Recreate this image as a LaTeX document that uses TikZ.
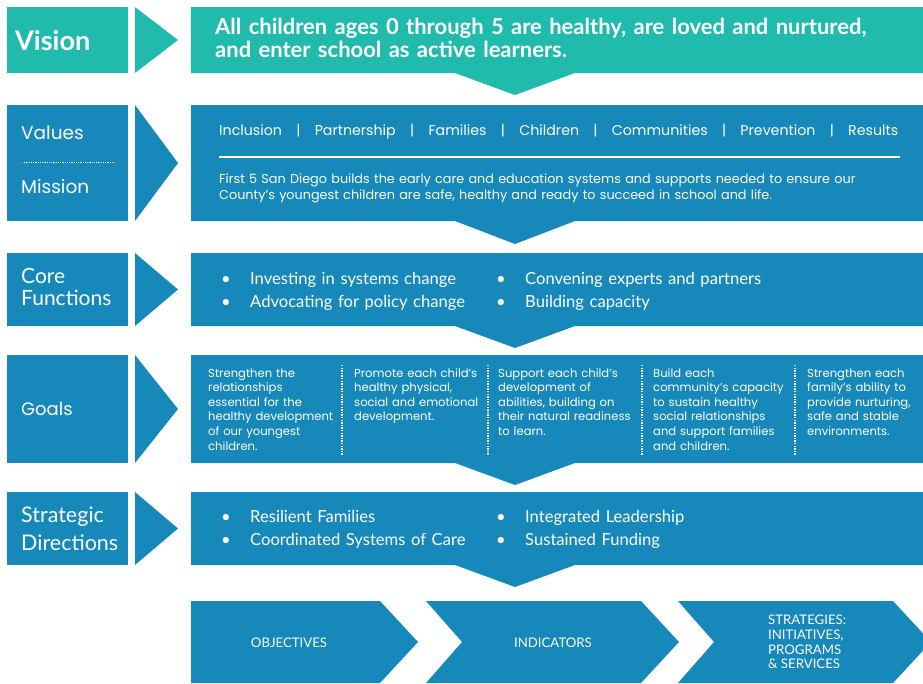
\documentclass[tikz,border=0pt]{standalone}
\usepackage{fontspec}
\setmainfont{Lato}
\newfontfamily\widefont{Poppins}
\usetikzlibrary{positioning}
\definecolor{visteal}{HTML}{21BBAE}
\definecolor{planblue}{HTML}{1689BA}

\begin{document}
\begin{tikzpicture}[x=1pt, y=-1pt,
  side/.style = {fill=planblue, anchor=north west, minimum width=121pt, inner sep=0pt},
  sidetext/.style = {text=white, anchor=base west, inner sep=0pt, text width=110pt, align=left},
  txt/.style = {text=white, anchor=base west, inner sep=0pt, align=left},
  goal/.style = {text=white, anchor=base west, inner sep=0pt, text width=135pt, align=left, font=\widefont\fontsize{11.6}{14.6}\selectfont},
  item/.style = {text=white, anchor=base west, inner sep=0pt, text width=280pt, align=left, font=\fontsize{16.6}{22.5}\selectfont},
  chev/.style = {text=white, inner sep=0pt, align=left, font=\fontsize{13.2}{14.7}\selectfont},
  sep/.style = {white, line width=1.5pt, dash pattern=on 1.3pt off 1.3pt}]

\useasboundingbox (0,0) rectangle (923,683);
\clip (0,0) rectangle (923,683);

% vision
\node[side, fill=visteal, minimum height=66pt] (vis) at (7,7) {};
\node[sidetext, font=\bfseries\fontsize{27}{30}\selectfont] (vislab) at (15,50) {Vision};
\fill[visteal] (135,7) -- (178,40) -- (135,73) -- cycle;
\fill[visteal] (191,7) -- (923,7) -- (923,73) -- (575,73) -- (515,95) -- (455,73) -- (191,73) -- cycle;
\node[txt, text width=700pt, font=\bfseries\fontsize{22}{23}\selectfont] (vistxt) at (215,34)
  {All children ages 0 through 5 are healthy, are loved and nurtured,\\and enter school as active learners.};

% values and mission
\node[side, minimum height=116pt] (val) at (7,105) {};
\node[sidetext, font=\widefont\fontsize{18.5}{20}\selectfont] (vallab) at (21,139) {Values};
\node[sidetext, font=\widefont\fontsize{18.5}{20}\selectfont] (mislab) at (21,193) {Mission};
\draw[sep, line width=1pt, dash pattern=on 0.9pt off 0.9pt] (22,162) -- (114,162);
\fill[planblue] (135,105) -- (178,163) -- (135,221) -- cycle;
\fill[planblue] (191,105) -- (923,105) -- (923,221) -- (575,221) -- (515,244) -- (455,221) -- (191,221) -- cycle;
\node[txt, text width=679pt, font=\widefont\fontsize{14.2}{16}\selectfont] (vallist) at (219,135)
  {Inclusion\hspace{\stretch{1}}|\hspace{\stretch{1}}Partnership\hspace{\stretch{1}}|\hspace{\stretch{1}}Families\hspace{\stretch{1}}|\hspace{\stretch{1}}Children\hspace{\stretch{1}}|\hspace{\stretch{1}}Communities\hspace{\stretch{1}}|\hspace{\stretch{1}}Prevention\hspace{\stretch{1}}|\hspace{\stretch{1}}Results};
\draw[white, line width=1.5pt] (219,157) -- (900,157);
\node[txt, text width=690pt, font=\widefont\fontsize{12.8}{16}\selectfont] (mistxt) at (219,183.5)
  {First 5 San Diego builds the early care and education systems and supports needed to ensure our\\County’s youngest children are safe, healthy and ready to succeed in school and life.};

% core functions
\node[side, minimum height=73pt] (core) at (7,253) {};
\node[sidetext, font=\fontsize{21}{22}\selectfont] (corelab) at (21,283) {Core\\Functions};
\fill[planblue] (135,253) -- (178,289.5) -- (135,326) -- cycle;
\fill[planblue] (191,253) -- (923,253) -- (923,326) -- (575,326) -- (515,348) -- (455,326) -- (191,326) -- cycle;
\node[item] (core1) at (221,284.5) {\makebox[29pt][l]{•}Investing in systems change\\\makebox[29pt][l]{•}Advocating for policy change};
\node[item] (core2) at (496,284.5) {\makebox[29pt][l]{•}Convening experts and partners\\\makebox[29pt][l]{•}Building capacity};

% goals
\node[side, minimum height=108pt] (goals) at (7,355) {};
\node[sidetext, font=\widefont\fontsize{18}{20}\selectfont] (goallab) at (21,415) {Goals};
\fill[planblue] (135,355) -- (178,409) -- (135,463) -- cycle;
\fill[planblue] (191,355) -- (923,355) -- (923,463) -- (575,463) -- (515,485) -- (455,463) -- (191,463) -- cycle;
\node[goal] (g1) at (208,377) {Strengthen the\\relationships\\essential for the\\healthy development\\of our youngest\\children.};
\node[goal] (g2) at (354,377) {Promote each child’s\\healthy physical,\\social and emotional\\development.};
\node[goal] (g3) at (498,377) {Support each child’s\\development of\\abilities, building on\\their natural readiness\\to learn.};
\node[goal] (g4) at (653,377) {Build each\\community’s capacity\\to sustain healthy\\social relationships\\and support families\\and children.};
\node[goal] (g5) at (807,377) {Strengthen each\\family’s ability to\\provide nurturing,\\safe and stable\\environments.};
\draw[sep] (342,365) -- (342,455);
\draw[sep] (488,365) -- (488,455);
\draw[sep] (642,365) -- (642,455);
\draw[sep] (795,365) -- (795,455);

% strategic directions
\node[side, minimum height=73pt] (strat) at (7,492) {};
\node[sidetext, font=\fontsize{21.5}{28}\selectfont] (stratlab) at (21,522) {Strategic\\Directions};
\fill[planblue] (135,492) -- (178,528.5) -- (135,565) -- cycle;
\fill[planblue] (191,492) -- (923,492) -- (923,565) -- (575,565) -- (515,587) -- (455,565) -- (191,565) -- cycle;
\node[item] (strat1) at (221,522.5) {\makebox[29pt][l]{•}Resilient Families\\\makebox[29pt][l]{•}Coordinated Systems of Care};
\node[item] (strat2) at (496,522.5) {\makebox[29pt][l]{•}Integrated Leadership\\\makebox[29pt][l]{•}Sustained Funding};

% objectives, indicators, strategies
\fill[planblue] (191,601) -- (380,601) -- (418,642) -- (380,683) -- (191,683) -- cycle;
\fill[planblue] (426,601) -- (641,601) -- (679,642) -- (641,683) -- (426,683) -- (462,642) -- cycle;
\fill[planblue] (678,601) -- (893,601) -- (931,642) -- (893,683) -- (678,683) -- (714,642) -- cycle;
\node[chev] (obj) at (289,643) {OBJECTIVES};
\node[chev] (ind) at (553,643) {INDICATORS};
\node[chev, anchor=west] (strg) at (768,642) {STRATEGIES:\\INITIATIVES,\\PROGRAMS\\\& SERVICES};
\end{tikzpicture}
\end{document}
